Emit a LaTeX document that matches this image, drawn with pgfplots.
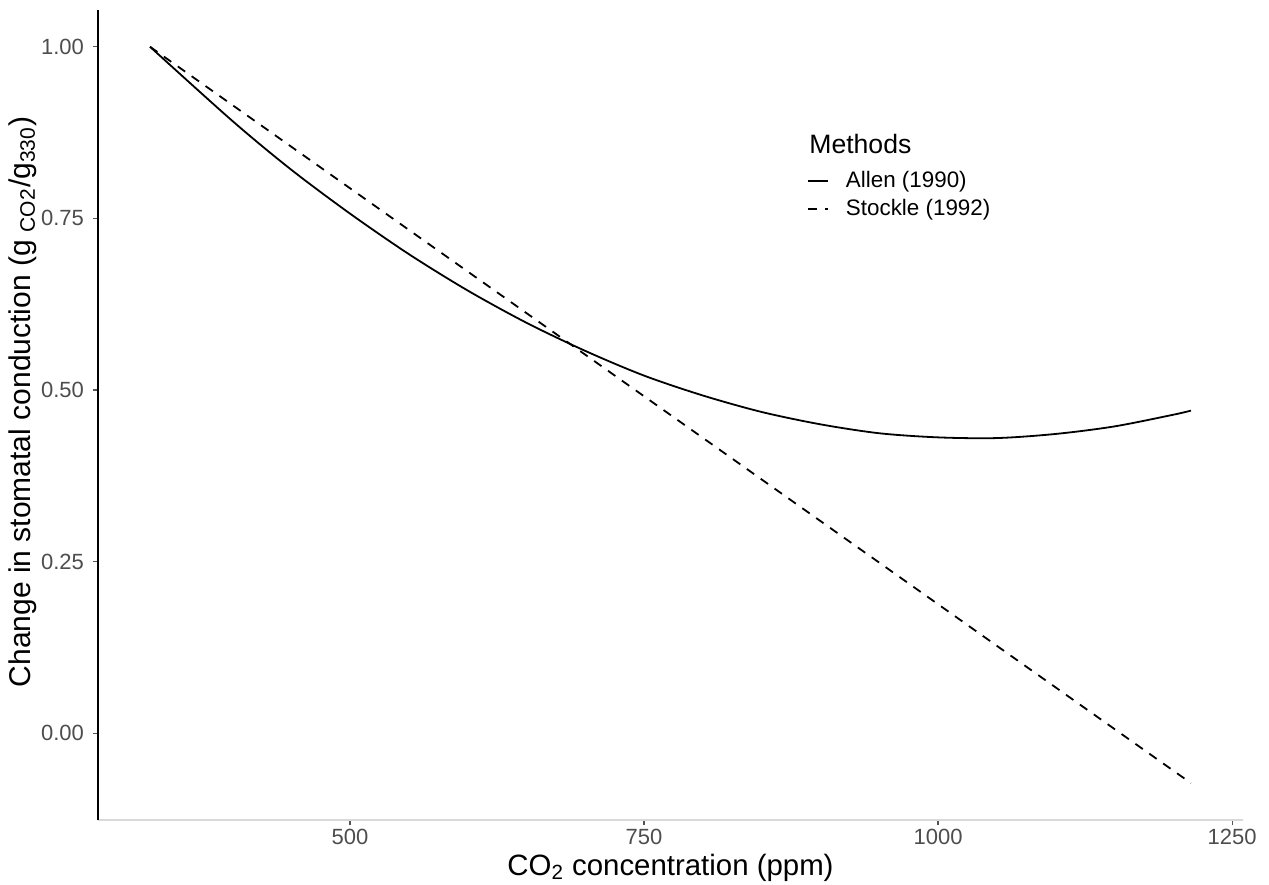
\documentclass[border=0pt]{standalone}
\usepackage{fontspec}
\setmainfont{Liberation Sans}
\usepackage{pgfplots}
\pgfplotsset{compat=1.18}
\definecolor{ticklab}{HTML}{4D4D4D}
\definecolor{xaxisgrey}{HTML}{D9D9D9}
\definecolor{tickgrey}{HTML}{555555}
\begin{document}
\begin{tikzpicture}
\path[use as bounding box] (-49pt,-32pt) rectangle (585.5pt,410pt);
\begin{axis}[
  at={(0,0)}, anchor=south west,
  scale only axis,
  width=572.5pt, height=405pt,
  xmin=285.75, xmax=1259.25,
  ymin=-0.1264, ymax=1.0536,
  axis x line*=bottom, axis y line*=left,
  x axis line style={-, draw=xaxisgrey, line width=0.8pt},
  y axis line style={-, draw=black, line width=0.9pt},
  xtick={500,750,1000,1250},
  ytick={0,0.25,0.5,0.75,1},
  yticklabels={0.00,0.25,0.50,0.75,1.00},
  xticklabels={500,750,1000,1250},
  tick align=outside,
  major tick length=2.5pt,
  tick style={draw=tickgrey, line width=0.6pt},
  minor tick num=0,
  /pgf/number format/assume math mode=true,
  tick label style={font=\fontsize{11}{13}\selectfont, text=ticklab},
  xticklabel style={yshift=1.5pt},
  yticklabel style={xshift=-1pt},
  xlabel={CO\textsubscript{2} concentration (ppm)},
  ylabel={Change in stomatal conduction (g\textsubscript{\hspace{4pt}CO2}/g\textsubscript{330})},
  every axis x label/.style={at={(axis description cs:0.5,0)}, anchor=base, yshift=-27.5pt, font=\fontsize{14.7}{17}\selectfont},
  every axis y label/.style={at={(axis description cs:-0.066,0.516)}, rotate=90, anchor=center, font=\fontsize{15}{17}\selectfont},
  legend style={at={(0.619,0.805)}, anchor=north west, draw=none, fill=none,
    font=\fontsize{11.2}{13}\selectfont, row sep=1.5pt, column sep=7pt, inner sep=0pt,
    nodes={inner sep=1.5pt}},
  legend cell align=left,
  legend image code/.code={\draw[#1] (0pt,0pt) -- (10pt,0pt);},
  clip=false,
]
\addplot[black, line width=0.9pt, smooth] coordinates {
(330,1.000) (400,0.892) (450,0.821) (500,0.757) (550,0.698) (600,0.645)
(650,0.598) (700,0.557) (750,0.521) (800,0.492) (850,0.468) (900,0.450)
(950,0.437) (1000,0.431) (1050,0.430) (1100,0.436) (1150,0.447) (1200,0.464)
(1215,0.470)};
\addlegendentry{Allen (1990)}
\addplot[black, line width=0.9pt, dash pattern=on 4.5pt off 4pt] coordinates {
(330,1.000) (600,0.6727) (900,0.3091) (1215,-0.0727)};
\addlegendentry{Stockle (1992)}
\node[anchor=base west, font=\fontsize{13.3}{15}\selectfont, inner sep=0pt] at (axis cs:890.2,0.845) {Methods};
\end{axis}
\end{tikzpicture}
\end{document}
